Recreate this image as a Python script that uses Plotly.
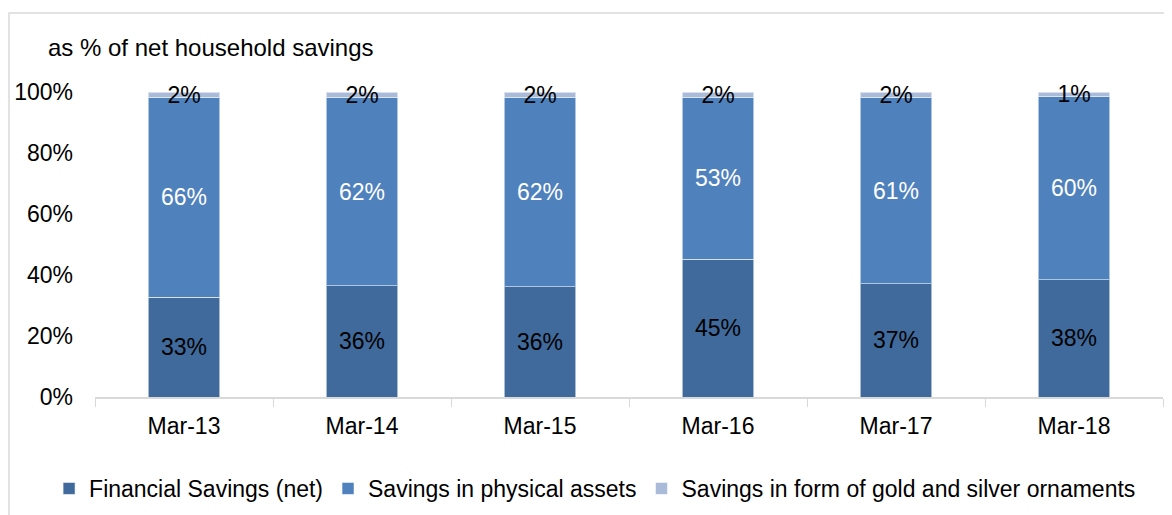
import plotly.graph_objects as go

# share of net household savings, %
periods = ["Mar-13", "Mar-14", "Mar-15", "Mar-16", "Mar-17", "Mar-18"]
financial = [32.7, 36.4, 36.2, 45.2, 37.2, 38.4]
physical = [65.6, 61.8, 62.0, 53.0, 61.0, 60.2]
gold = [1.7, 1.8, 1.8, 1.8, 1.8, 1.4]

FONT = "Liberation Sans, Arial, sans-serif"
series = [
    ("Financial Savings (net)", financial, "#3F6A9B", "black"),
    ("Savings in physical assets", physical, "#4F81BD", "white"),
    ("Savings in form of gold and silver ornaments", gold, "#AABBDA", "black"),
]

fig = go.Figure()
for name, vals, color, txtcol in series:
    fig.add_trace(go.Bar(
        x=periods, y=vals, name=name, cliponaxis=False,
        marker=dict(color=color, line=dict(color="rgba(255,255,255,0.55)", width=1)),
        texttemplate="%{y:.0f}%", textposition="inside", insidetextanchor="middle",
        constraintext="none", textangle=0,
        textfont=dict(family=FONT, size=23, color=txtcol),
    ))

# the page body adds an 8px offset, so the figure is 8px smaller on each side
fig.update_layout(
    width=1164, height=507, barmode="stack", bargap=0.6,
    plot_bgcolor="white", paper_bgcolor="white",
    font=dict(family=FONT, size=23, color="black"),
    margin=dict(l=87, r=9, t=84, b=118, autoexpand=False),
    showlegend=True,
    legend=dict(orientation="h", x=-0.043, xanchor="left", y=-0.3, yanchor="middle",
                font=dict(size=23), traceorder="normal"),
    annotations=[dict(text="as % of net household savings", xref="paper", yref="paper",
                      x=-0.046, y=1.145, xanchor="left", yanchor="middle",
                      showarrow=False, font=dict(size=24))],
    shapes=[dict(type="rect", xref="paper", yref="paper", x0=-0.0805, y0=-0.6,
                 x1=1.2, y1=1.259, line=dict(color="#D9D9D9", width=1.5),
                 fillcolor="rgba(0,0,0,0)", layer="below")],
)
fig.update_yaxes(range=[0, 100], dtick=20, ticksuffix="%", showgrid=False,
                 zeroline=False, showline=False, ticklabelstandoff=21, automargin=False)
fig.update_xaxes(showline=True, linecolor="#D9D9D9", linewidth=1.5, ticks="outside",
                 tickson="boundaries", ticklen=8, tickcolor="#D9D9D9",
                 ticklabelstandoff=8, showgrid=False, automargin=False)

fig.write_html("out.html")
